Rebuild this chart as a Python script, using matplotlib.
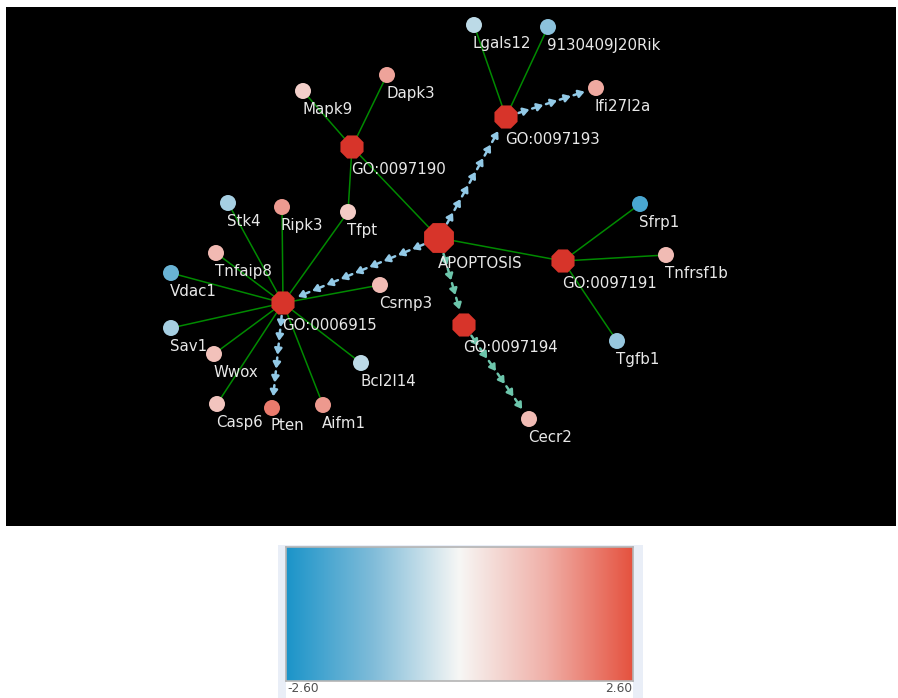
import numpy as np
import matplotlib
matplotlib.use("Agg")
import matplotlib.pyplot as plt
from matplotlib.colors import LinearSegmentedColormap, Normalize
from matplotlib.patches import Rectangle

W, H = 898, 698

# GO term nodes (layout coordinates)
go_names = ['APOPTOSIS', 'GO:0097190', 'GO:0097193', 'GO:0097191', 'GO:0097194', 'GO:0006915']
go_x = [439, 352, 506, 563, 464, 283]
go_y = [238, 147, 117, 261, 325, 303]
go_diam = [31, 24, 24, 24, 24, 24]

# gene nodes with log fold change
gene_names = ['Lgals12', '9130409J20Rik', 'Ifi27l2a', 'Mapk9', 'Dapk3', 'Tfpt',
              'Stk4', 'Ripk3', 'Tnfaip8', 'Vdac1', 'Csrnp3', 'Sav1', 'Wwox',
              'Bcl2l14', 'Casp6', 'Pten', 'Aifm1', 'Sfrp1', 'Tnfrsf1b', 'Tgfb1', 'Cecr2']
gene_x = [474, 548, 596, 303, 387, 348, 228, 282, 216, 171, 380, 171, 214,
          361, 217, 272, 323, 640, 666, 617, 529]
gene_y = [25, 27, 88, 91, 75, 212, 203, 207, 253, 273, 285, 328, 354,
          363, 404, 408, 405, 204, 255, 341, 419]
gene_fc = [-0.65, -1.17, 1.40, 0.73, 1.48, 0.81, -0.88, 1.60, 1.12, -1.59, 1.08, -0.88, 0.99,
           -0.65, 0.93, 2.02, 1.62, -2.0, 1.08, -1.04, 1.08]
gene_diam = 16

# gene-term membership and term-term links
assoc = [('GO:0097190', 'Mapk9'), ('GO:0097190', 'Dapk3'), ('GO:0097190', 'Tfpt'),
         ('APOPTOSIS', 'GO:0097190'), ('APOPTOSIS', 'GO:0097191'),
         ('GO:0097193', 'Lgals12'), ('GO:0097193', '9130409J20Rik'),
         ('GO:0097191', 'Sfrp1'), ('GO:0097191', 'Tnfrsf1b'), ('GO:0097191', 'Tgfb1'),
         ('GO:0006915', 'Stk4'), ('GO:0006915', 'Ripk3'), ('GO:0006915', 'Tfpt'),
         ('GO:0006915', 'Tnfaip8'), ('GO:0006915', 'Vdac1'), ('GO:0006915', 'Csrnp3'),
         ('GO:0006915', 'Sav1'), ('GO:0006915', 'Wwox'), ('GO:0006915', 'Bcl2l14'),
         ('GO:0006915', 'Casp6'), ('GO:0006915', 'Aifm1')]
arrows_blue = [('APOPTOSIS', 'GO:0097193'), ('GO:0097193', 'Ifi27l2a'),
               ('APOPTOSIS', 'GO:0006915'), ('GO:0006915', 'Pten')]
arrows_teal = [('APOPTOSIS', 'GO:0097194'), ('GO:0097194', 'Cecr2')]

vmin, vmax = -2.60, 2.60

cmap = LinearSegmentedColormap.from_list(
    'fc', [(0.0, '#1b94c9'), (0.25, '#80bcd9'), (0.5, '#f7f7f5'),
           (0.75, '#f0b0a8'), (1.0, '#e5523f')])
norm = Normalize(vmin, vmax)

pos = {}
rad = {}
for n, x, y, d in zip(go_names, go_x, go_y, go_diam):
    pos[n] = (x, y)
    rad[n] = d / 2
for n, x, y in zip(gene_names, gene_x, gene_y):
    pos[n] = (x, y)
    rad[n] = gene_diam / 2

fig = plt.figure(figsize=(W / 100, H / 100), dpi=100)
fig.patch.set_facecolor('white')

ax = fig.add_axes([6 / W, 1 - 526 / H, 890 / W, 519 / H])
ax.set_facecolor('black')
ax.set_xlim(6, 896)
ax.set_ylim(526, 7)
ax.set_xticks([])
ax.set_yticks([])
for s in ax.spines.values():
    s.set_visible(False)


def dashed_arrows(a, b, color):
    x0, y0 = pos[a]
    x1, y1 = pos[b]
    d = np.hypot(x1 - x0, y1 - y0)
    ux, uy = (x1 - x0) / d, (y1 - y0) / d
    start, end = rad[a] + 1, d - rad[b] - 1
    n = max(2, int(round((end - start) / 15)))
    step = (end - start) / n
    for i in range(n):
        s0 = start + i * step
        s1 = s0 + step * 0.8
        ax.annotate('', xy=(x0 + ux * s1, y0 + uy * s1),
                    xytext=(x0 + ux * s0, y0 + uy * s0),
                    arrowprops=dict(arrowstyle='-|>,head_length=0.35,head_width=0.22',
                                    color=color, lw=1.8, shrinkA=0, shrinkB=0),
                    zorder=2)


for a, b in assoc:
    ax.plot([pos[a][0], pos[b][0]], [pos[a][1], pos[b][1]],
            color='#008a00', lw=1.1, zorder=1)
for a, b in arrows_blue:
    dashed_arrows(a, b, '#92c9e6')
for a, b in arrows_teal:
    dashed_arrows(a, b, '#6cc5ab')

ax.scatter(gene_x, gene_y, s=(gene_diam * 0.72) ** 2, c=gene_fc, cmap=cmap,
           norm=norm, marker='o', linewidths=0, zorder=3)
ax.scatter(go_x, go_y, s=[(d * 0.75) ** 2 for d in go_diam], c='#d7342a',
           marker='8', linewidths=0, zorder=3)

for n, x, y in zip(gene_names + go_names, gene_x + go_x, gene_y + go_y):
    ax.text(x - 1, y + rad[n] + 10, n, color='#e8e8e8', fontsize=10.8,
            ha='left', va='center', zorder=4)

# colour legend
def fig_rect(x0, y0, x1, y1, **kw):
    fig.patches.append(Rectangle((x0 / W, 1 - y1 / H), (x1 - x0) / W, (y1 - y0) / H,
                                 transform=fig.transFigure, figure=fig, **kw))


fig_rect(278, 545, 643, 698, facecolor='#e9eef7', edgecolor='none', zorder=-2)
fig_rect(286, 681, 633, 698, facecolor='white', edgecolor='none', zorder=-1)

cax = fig.add_axes([286 / W, 1 - 681 / H, 347 / W, 134 / H])
grad = np.linspace(vmin, vmax, 512)[None, :]
cax.imshow(grad, aspect='auto', cmap=cmap, norm=norm, extent=[vmin, vmax, 0, 1])
cax.set_xticks([])
cax.set_yticks([])
for s in cax.spines.values():
    s.set_color('#b4b4b4')
    s.set_linewidth(1.2)

fig.text(287 / W, 1 - 689 / H, f'{vmin:.2f}', fontsize=8.8, color='#505050',
         ha='left', va='center')
fig.text(632 / W, 1 - 689 / H, f'{vmax:.2f}', fontsize=8.8, color='#505050',
         ha='right', va='center')

fig.savefig('out.png', dpi=100, facecolor=fig.get_facecolor())
